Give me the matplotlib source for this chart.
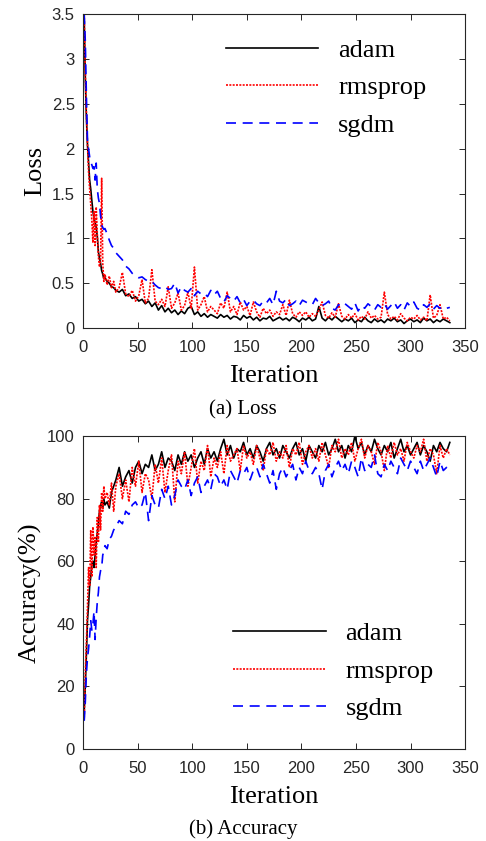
import matplotlib
matplotlib.use("Agg")
import matplotlib.pyplot as plt

# iteration grid used for the read-off values
iters = list(range(1, 21)) + [22, 24, 26, 28, 30] + list(range(33, 337, 3))

# --- loss values ---
loss_adam = [3.45, 2.80, 2.35, 2.05, 1.85, 1.65, 1.55, 1.42, 1.30, 1.22,
             1.18, 1.12, 1.02, 0.85, 0.78, 0.72, 0.64, 0.60, 0.55, 0.56,
             0.52, 0.50, 0.46, 0.45, 0.42,
             0.40, 0.43, 0.36, 0.38, 0.33, 0.35, 0.30, 0.32, 0.27, 0.30,
             0.24, 0.28, 0.20, 0.25, 0.18, 0.22, 0.17, 0.20, 0.15, 0.19,
             0.16, 0.22, 0.24, 0.15, 0.18, 0.13, 0.16, 0.12, 0.15, 0.13,
             0.11, 0.15, 0.12, 0.14, 0.10, 0.13, 0.12, 0.09, 0.14, 0.11,
             0.13, 0.09, 0.12, 0.08, 0.11, 0.10, 0.13, 0.08, 0.10, 0.12,
             0.09, 0.11, 0.08, 0.12, 0.10, 0.07, 0.11, 0.09, 0.12, 0.08,
             0.10, 0.24, 0.11, 0.08, 0.12, 0.09, 0.13, 0.10, 0.07, 0.10,
             0.08, 0.11, 0.06, 0.09, 0.07, 0.12, 0.08, 0.06, 0.10, 0.07,
             0.09, 0.06, 0.10, 0.08, 0.11, 0.07, 0.09, 0.05, 0.08, 0.10,
             0.07, 0.09, 0.06, 0.11, 0.08, 0.10, 0.06, 0.09, 0.07, 0.10,
             0.08, 0.06]
loss_rmsprop = [3.50, 2.85, 2.40, 2.05, 1.75, 1.55, 1.38, 1.20, 0.95, 1.30,
                0.92, 1.35, 1.05, 0.80, 0.68, 0.75, 1.67, 0.72, 0.52, 0.60,
                0.48, 0.58, 0.45, 0.52, 0.40,
                0.45, 0.62, 0.38, 0.35, 0.42, 0.30, 0.36, 0.54, 0.28, 0.33,
                0.65, 0.30, 0.26, 0.32, 0.24, 0.46, 0.22, 0.28, 0.39, 0.20,
                0.25, 0.40, 0.22, 0.68, 0.20, 0.26, 0.35, 0.18, 0.24, 0.20,
                0.16, 0.28, 0.22, 0.40, 0.18, 0.24, 0.15, 0.29, 0.20, 0.24,
                0.14, 0.29, 0.18, 0.12, 0.22, 0.16, 0.20, 0.13, 0.18, 0.15,
                0.26, 0.14, 0.31, 0.16, 0.12, 0.18, 0.14, 0.18, 0.12, 0.16,
                0.13, 0.20, 0.29, 0.14, 0.11, 0.17, 0.12, 0.27, 0.13, 0.10,
                0.15, 0.11, 0.16, 0.09, 0.13, 0.10, 0.18, 0.11, 0.14, 0.10,
                0.12, 0.40, 0.15, 0.10, 0.13, 0.09, 0.16, 0.11, 0.08, 0.12,
                0.10, 0.14, 0.09, 0.12, 0.08, 0.37, 0.11, 0.14, 0.26, 0.10,
                0.12, 0.08]
loss_sgdm = [3.50, 3.20, 2.60, 2.10, 2.00, 1.91, 1.85, 1.82, 1.78, 1.80,
             1.65, 1.84, 1.55, 1.45, 1.39, 1.25, 1.15, 1.12, 1.10, 1.11,
             1.05, 0.98, 0.92, 0.89, 0.84,
             0.80, 0.76, 0.69, 0.66, 0.61, 0.58, 0.56, 0.57, 0.54, 0.52,
             0.52, 0.48, 0.45, 0.44, 0.46, 0.43, 0.44, 0.50, 0.39, 0.46,
             0.42, 0.40, 0.44, 0.36, 0.41, 0.38, 0.39, 0.35, 0.42, 0.37,
             0.41, 0.33, 0.29, 0.36, 0.33, 0.30, 0.35, 0.28, 0.32, 0.25,
             0.30, 0.31, 0.27, 0.25, 0.30, 0.28, 0.33, 0.26, 0.41, 0.30,
             0.28, 0.32, 0.25, 0.27, 0.30, 0.25, 0.31, 0.29, 0.27, 0.26,
             0.33, 0.28, 0.25, 0.27, 0.30, 0.22, 0.20, 0.26, 0.24, 0.27,
             0.24, 0.21, 0.28, 0.19, 0.25, 0.22, 0.27, 0.24, 0.20, 0.26,
             0.23, 0.27, 0.21, 0.25, 0.29, 0.22, 0.26, 0.20, 0.28, 0.24,
             0.29, 0.22, 0.20, 0.26, 0.23, 0.27, 0.21, 0.25, 0.22, 0.24,
             0.22, 0.23]

# --- accuracy values (%) ---
acc_adam = [12, 20, 30, 41, 46, 52, 55, 59, 60, 58,
            62, 66, 69, 72, 76, 78, 79, 77, 80, 78,
            79, 77, 82, 84, 86,
            90, 84, 87, 89, 85, 90, 92, 88, 91, 90,
            94, 89, 91, 95, 90, 93, 92, 89, 94, 91,
            95, 92, 94, 90, 93, 95, 91, 96, 93, 95,
            92, 96, 99, 94, 97, 93, 96, 95, 98, 94,
            96, 93, 97, 95, 92, 96, 98, 94, 96, 93,
            97, 95, 93, 96, 98, 94, 96, 92, 97, 95,
            93, 97, 95, 98, 94, 96, 99, 95, 97, 93,
            97, 95, 100, 96, 98, 94, 97, 95, 99, 96,
            94, 97, 95, 98, 93, 96, 99, 95, 97, 94,
            96, 98, 94, 97, 95, 92, 97, 95, 98, 96,
            95, 98]
acc_rmsprop = [10, 24, 34, 45, 58, 52, 70, 55, 71, 62,
               68, 58, 74, 66, 78, 70, 82, 76, 84, 80,
               82, 78, 85, 76, 84,
               88, 80, 86, 79, 90, 84, 92, 82, 88, 86,
               80, 91, 85, 93, 82, 89, 94, 79, 92, 88,
               95, 84, 90, 96, 85, 92, 89, 97, 87, 93,
               90, 95, 88, 97, 92, 94, 96, 89, 97, 93,
               95, 91, 97, 93, 89, 96, 94, 98, 92, 95,
               93, 97, 90, 96, 94, 98, 91, 95, 97, 93,
               96, 92, 98, 94, 90, 97, 95, 99, 93, 96,
               94, 98, 92, 96, 99, 93, 97, 95, 91, 98,
               95, 89, 97, 93, 98, 94, 96, 92, 98, 95,
               93, 97, 95, 99, 92, 96, 94, 88, 97, 93,
               96, 94]
acc_sgdm = [9, 15, 24, 29, 32, 36, 41, 38, 40, 44,
            35, 42, 47, 50, 55, 57, 58, 62, 63, 65,
            64, 67, 68, 70, 71,
            73, 72, 76, 75, 78, 79, 77, 78, 82, 73,
            81, 78, 77, 83, 80, 84, 78, 81, 86, 84,
            83, 86, 81, 85, 87, 82, 84, 86, 83, 88,
            87, 84, 86, 83, 89, 87, 85, 89, 88, 90,
            86, 89, 90, 87, 91, 88, 85, 89, 83, 88,
            90, 87, 89, 91, 86, 90, 88, 92, 89, 88,
            90, 88, 83, 89, 91, 87, 90, 92, 89, 91,
            88, 92, 90, 87, 93, 89, 91, 90, 94, 88,
            87, 91, 89, 92, 90, 88, 93, 91, 89, 92,
            90, 88, 92, 89, 91, 93, 90, 87, 92, 89,
            90, 88]

labels = ["adam", "rmsprop", "sgdm"]
serif = "Liberation Serif"
sans = "Liberation Sans"

fig = plt.figure(figsize=(4.86, 8.41), dpi=100)


def style_axes(ax, ylim, yticks, yticklabels):
    ax.set_xlim(0, 350)
    ax.set_ylim(*ylim)
    ax.set_xticks(range(0, 351, 50))
    ax.set_yticks(yticks)
    ax.set_yticklabels(yticklabels)
    ax.tick_params(direction="in", top=True, right=True, length=4,
                   width=0.7, labelsize=12, colors="#262626")
    ax.tick_params(axis="x", pad=9)
    ax.tick_params(axis="y", pad=6)
    for lab in ax.get_xticklabels() + ax.get_yticklabels():
        lab.set_fontfamily(sans)
    for sp in ax.spines.values():
        sp.set_linewidth(0.8)
        sp.set_color("#262626")
    ax.set_xlabel("Iteration", fontfamily=serif, fontsize=19, labelpad=7)


def draw(ax, a, r, s):
    ax.plot(iters, a, color="black", lw=1.2, ls="-", label=labels[0])
    ax.plot(iters, r, color="red", lw=1.2, ls=(0, (1.2, 0.8)), label=labels[1])
    ax.plot(iters, s, color="blue", lw=1.2, ls=(0, (6, 4)), label=labels[2])


def add_legend(ax, anchor):
    ax.legend(loc="upper left", frameon=False, prop={"family": serif, "size": 19},
              handlelength=3.5, handletextpad=0.75, labelspacing=0.53,
              borderpad=0, borderaxespad=0, bbox_to_anchor=anchor)


# (a) loss
ax1 = fig.add_axes([0.171, 0.610, 0.786, 0.373])
draw(ax1, loss_adam, loss_rmsprop, loss_sgdm)
style_axes(ax1, (0, 3.5), [0, 0.5, 1, 1.5, 2, 2.5, 3, 3.5],
           ["0", "0.5", "1", "1.5", "2", "2.5", "3", "3.5"])
ax1.set_ylabel("Loss", fontfamily=serif, fontsize=19, labelpad=4)
add_legend(ax1, (0.374, 0.923))

# (b) accuracy
ax2 = fig.add_axes([0.171, 0.1094, 0.786, 0.372])
draw(ax2, acc_adam, acc_rmsprop, acc_sgdm)
style_axes(ax2, (0, 100), [0, 20, 40, 60, 80, 100],
           ["0", "20", "40", "60", "80", "100"])
ax2.set_ylabel("Accuracy(%)", fontfamily=serif, fontsize=19, labelpad=4)
add_legend(ax2, (0.393, 0.406))

fig.text(0.5, 1 - 410 / 841, "(a) Loss", ha="center", va="center",
         fontfamily=serif, fontsize=15)
fig.text(0.5, 1 - 829 / 841, "(b) Accuracy", ha="center", va="center",
         fontfamily=serif, fontsize=15)

fig.savefig("out.png", dpi=100)
